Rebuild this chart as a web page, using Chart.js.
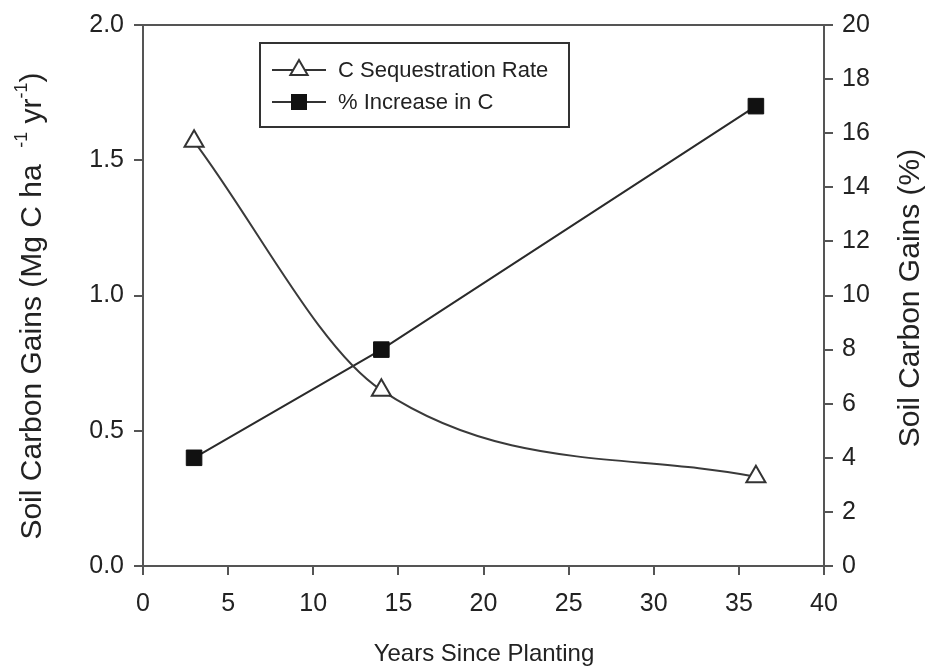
<!DOCTYPE html>
<html>
<head>
<meta charset="utf-8">
<script src="https://cdn.jsdelivr.net/npm/chart.js@4/dist/chart.umd.min.js"></script>
<style>
  html, body { margin: 0; padding: 0; background: #fff; }
  #wrap { width: 931px; height: 670px; }
</style>
</head>
<body>
<div id="wrap"><canvas id="soil"></canvas></div>
<script>
const years = [3, 14, 36]
const seqRate = [1.57, 0.65, 0.33]
const pctIncrease = [4, 8, 17]
const seriesNames = ['C Sequestration Rate', '% Increase in C']

const font = '"Liberation Sans", Arial, sans-serif'
const ink = '#222'
const axisGray = '#555'

function toPoints (xs, ys) {
  return xs.map((x, i) => ({ x: x, y: ys[i] }))
}

// titles, top frame line and boxed legend
const decorations = {
  id: 'decorations',
  afterDraw (chart) {
    const ctx = chart.ctx
    const area = chart.chartArea
    ctx.save()

    ctx.strokeStyle = axisGray
    ctx.lineWidth = 2
    ctx.beginPath()
    ctx.moveTo(area.left - 1, area.top)
    ctx.lineTo(area.right + 1, area.top)
    ctx.stroke()

    ctx.fillStyle = ink
    ctx.textBaseline = 'middle'
    ctx.font = '24px ' + font
    ctx.textAlign = 'center'
    ctx.fillText('Years Since Planting', 484, 654)

    // right title
    ctx.save()
    ctx.font = '30px ' + font
    ctx.translate(911, 298)
    ctx.rotate(-Math.PI / 2)
    ctx.fillText('Soil Carbon Gains (%)', 0, 0)
    ctx.restore()

    // left title with superscripts
    const parts = [
      ['Soil Carbon Gains (Mg C ha  ', false],
      ['-1', true],
      [' yr', false],
      ['-1', true],
      [')', false]
    ]
    const big = '30px ' + font
    const small = '18px ' + font
    let total = 0
    for (const p of parts) {
      ctx.font = p[1] ? small : big
      total += ctx.measureText(p[0]).width
    }
    ctx.save()
    ctx.translate(33, 306)
    ctx.rotate(-Math.PI / 2)
    ctx.textAlign = 'left'
    let cx = -total / 2
    for (const p of parts) {
      ctx.font = p[1] ? small : big
      ctx.fillText(p[0], cx, p[1] ? -11 : 0)
      cx += ctx.measureText(p[0]).width
    }
    ctx.restore()

    // legend
    ctx.strokeStyle = '#333'
    ctx.lineWidth = 2
    ctx.strokeRect(260, 43, 309, 84)
    const rows = [70, 102]
    ctx.font = '22px ' + font
    ctx.textAlign = 'left'
    rows.forEach((ry, i) => {
      ctx.strokeStyle = '#333'
      ctx.lineWidth = 2
      ctx.beginPath()
      ctx.moveTo(272, ry)
      ctx.lineTo(326, ry)
      ctx.stroke()
      if (i === 0) {
        const r = 10
        ctx.fillStyle = '#fff'
        ctx.beginPath()
        ctx.moveTo(299, ry - r)
        ctx.lineTo(299 + r * 0.866, ry + r * 0.5)
        ctx.lineTo(299 - r * 0.866, ry + r * 0.5)
        ctx.closePath()
        ctx.fill()
        ctx.stroke()
      } else {
        ctx.fillStyle = '#111'
        ctx.fillRect(291, ry - 8, 16, 16)
      }
      ctx.fillStyle = ink
      ctx.fillText(seriesNames[i], 338, ry + 1)
    })

    ctx.restore()
  }
}

new Chart(document.getElementById('soil'), {
  type: 'line',
  data: {
    datasets: [{
      label: seriesNames[0],
      data: toPoints(years, seqRate),
      yAxisID: 'y',
      borderColor: '#3a3a3a',
      borderWidth: 2,
      cubicInterpolationMode: 'monotone',
      pointStyle: 'triangle',
      pointRadius: 11,
      pointBackgroundColor: '#fff',
      pointBorderColor: '#333',
      pointBorderWidth: 2
    }, {
      label: seriesNames[1],
      data: toPoints(years, pctIncrease),
      yAxisID: 'y1',
      borderColor: '#2a2a2a',
      borderWidth: 2,
      tension: 0,
      pointStyle: 'rect',
      pointRadius: 11,
      pointBackgroundColor: '#111',
      pointBorderColor: '#111',
      pointBorderWidth: 1
    }]
  },
  options: {
    responsive: true,
    maintainAspectRatio: false,
    animation: false,
    layout: { padding: { top: 25 } },
    plugins: {
      legend: { display: false },
      tooltip: { enabled: false }
    },
    scales: {
      x: {
        type: 'linear',
        position: 'bottom',
        min: 0,
        max: 40,
        ticks: { stepSize: 5, color: ink, font: { family: font, size: 25 }, padding: 14, maxRotation: 0 },
        grid: { drawOnChartArea: false, tickLength: 9, color: axisGray, lineWidth: 2 },
        border: { color: axisGray, width: 2 },
        afterFit (scale) { scale.height = 104 }
      },
      y: {
        position: 'left',
        min: 0,
        max: 2,
        ticks: {
          stepSize: 0.5,
          color: ink,
          font: { family: font, size: 25 },
          padding: 10,
          callback: v => v.toFixed(1)
        },
        grid: { drawOnChartArea: false, tickLength: 9, color: axisGray, lineWidth: 2 },
        border: { color: axisGray, width: 2 },
        afterFit (scale) { scale.width = 143 }
      },
      y1: {
        position: 'right',
        min: 0,
        max: 20,
        ticks: { stepSize: 2, color: ink, font: { family: font, size: 25 }, padding: 9 },
        grid: { drawOnChartArea: false, tickLength: 9, color: axisGray, lineWidth: 2 },
        border: { color: axisGray, width: 2 },
        afterFit (scale) { scale.width = 107 }
      }
    }
  },
  plugins: [decorations]
})
</script>
</body>
</html>
